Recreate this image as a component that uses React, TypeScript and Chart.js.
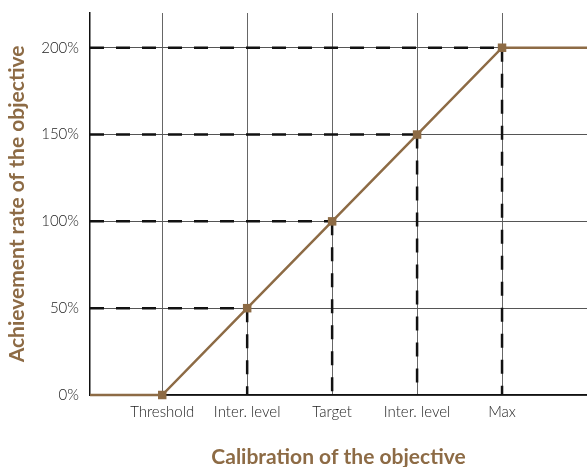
import React, { useEffect, useRef } from "react";
import { Chart, registerables } from "chart.js";

Chart.register(...registerables);

const categories = ["Threshold", "Inter. level", "Target", "Inter. level", "Max"];
const categoryPositions = [1, 2, 3, 4, 5];
const achievementRates = [0, 50, 100, 150, 200];
const xStart = 0.15;
const xEnd = 6;
const yTicks = [0, 50, 100, 150, 200];
const yMax = 220;

const BROWN = "#8D6B45";

export default function App() {
  const ref = useRef<HTMLCanvasElement | null>(null);
  useEffect(() => {
    if (!ref.current) return;
    const mainData = [
      { x: xStart, y: achievementRates[0] },
      ...categoryPositions.map((x, i) => ({ x, y: achievementRates[i] })),
      { x: xEnd, y: achievementRates[achievementRates.length - 1] },
    ];
    const radii = mainData.map((_, i) => (i === 0 || i === mainData.length - 1 ? 0 : 6));
    const dashed: any[] = [];
    categoryPositions.forEach((x, i) => {
      const r = achievementRates[i];
      if (r <= 0) return;
      dashed.push({
        data: [{ x: xStart, y: r }, { x, y: r }],
        borderColor: "#111",
        borderWidth: 2.5,
        borderDash: [14, 12],
        pointRadius: 0,
        order: 2,
        clip: false,
      });
      dashed.push({
        data: [{ x, y: r }, { x, y: 0 }],
        borderColor: "#111",
        borderWidth: 2.5,
        borderDash: [14, 12],
        pointRadius: 0,
        order: 2,
        clip: false,
      });
    });
    const chart = new Chart(ref.current, {
      type: "line",
      data: {
        datasets: [
          {
            data: mainData,
            borderColor: BROWN,
            backgroundColor: BROWN,
            borderWidth: 2.5,
            pointStyle: "rect",
            pointRadius: radii,
            pointBorderWidth: 0,
            pointBackgroundColor: BROWN,
            order: 0,
            clip: false,
          } as any,
          ...dashed,
        ],
      },
      options: {
        animation: false,
        responsive: true,
        maintainAspectRatio: false,
        layout: { padding: { top: 13, right: 0, left: 0, bottom: 0 } },
        plugins: { legend: { display: false }, tooltip: { enabled: false } },
        scales: {
          x: {
            type: "linear",
            min: xStart,
            max: xEnd,
            afterBuildTicks: (scale: any) => {
              scale.ticks = categoryPositions.map((v) => ({ value: v }));
            },
            afterFit: (scale: any) => {
              scale.height = 72;
              scale.paddingLeft = 0;
              scale.paddingRight = 0;
            },
            ticks: {
              autoSkip: false,
              maxRotation: 0,
              padding: 8,
              color: "#222",
              font: { family: "Lato", size: 15, weight: "300" },
              callback: (v: any) => {
                const i = categoryPositions.indexOf(Number(v));
                return i >= 0 ? categories[i] : "";
              },
            },
            grid: { color: "#666", lineWidth: 1, drawTicks: false },
            border: { color: "#111", width: 1.5 },
            title: {
              display: true,
              text: "Calibration of the objective",
              color: BROWN,
              font: { family: "Lato", size: 21, weight: "bold" },
              padding: { top: 0, bottom: -3 },
            },
          },
          y: {
            type: "linear",
            min: 0,
            max: yMax,
            afterBuildTicks: (scale: any) => {
              scale.ticks = yTicks.map((v) => ({ value: v }));
            },
            afterFit: (scale: any) => {
              scale.width = 90;
              scale.paddingTop = 0;
              scale.paddingBottom = 0;
            },
            ticks: {
              padding: 11,
              color: "#222",
              font: { family: "Lato", size: 15, weight: "300" },
              callback: (v: any) => v + "%",
            },
            grid: { color: "#555", lineWidth: 1, drawTicks: false },
            border: { color: "#111", width: 1.5 },
            title: {
              display: true,
              text: "Achievement rate of the objective",
              color: BROWN,
              font: { family: "Lato", size: 21, weight: "bold" },
              padding: { top: 5, bottom: 0 },
            },
          },
        },
      },
    });
    return () => chart.destroy();
  }, []);
  return (
    <div style={{ position: "absolute", left: 0, top: 0, width: 587, height: 467 }}>
      <canvas ref={ref} />
    </div>
  );
}
